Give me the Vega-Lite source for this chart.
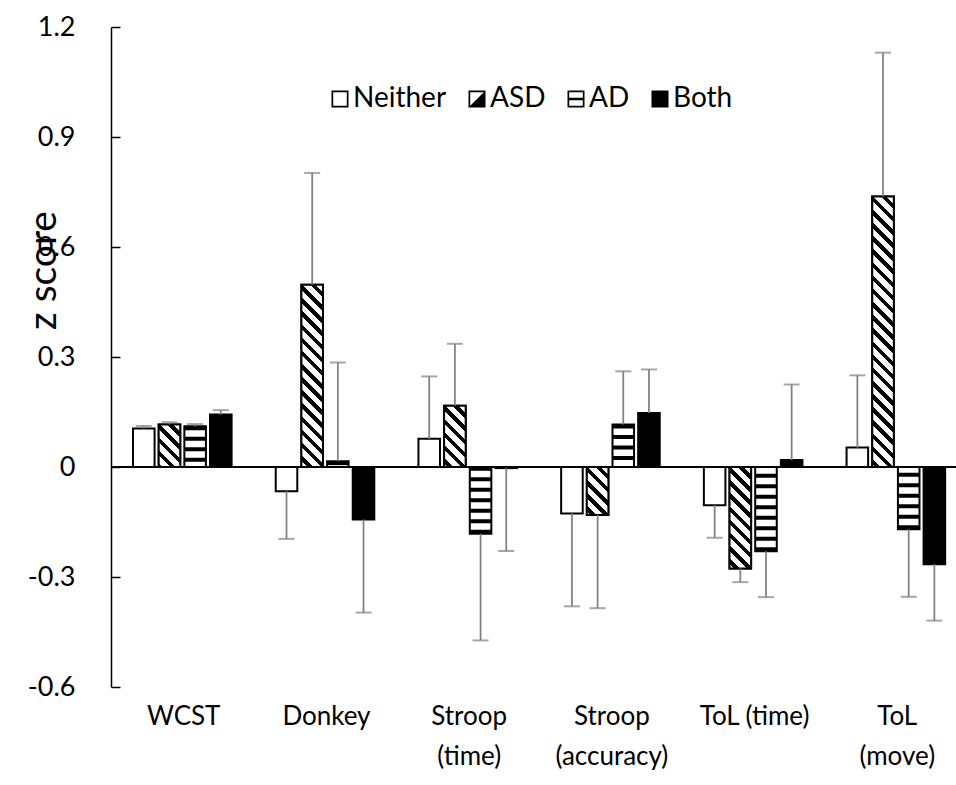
{
  "$schema": "https://vega.github.io/schema/vega-lite/v6.json",
  "autosize": {"type": "none"},
  "padding": {"left": 111, "top": 27, "right": 0, "bottom": 98},
  "width": 845,
  "height": 660,
  "config": {"view": {"stroke": null}, "font": "Lato"},
  "data": {"values": [
    {"cat": "WCST", "group": "Neither", "z": 0.105, "tip": 0.112},
    {"cat": "WCST", "group": "ASD", "z": 0.116, "tip": 0.122},
    {"cat": "WCST", "group": "AD", "z": 0.111, "tip": 0.117},
    {"cat": "WCST", "group": "Both", "z": 0.143, "tip": 0.155},
    {"cat": "Donkey", "group": "Neither", "z": -0.066, "tip": -0.196},
    {"cat": "Donkey", "group": "ASD", "z": 0.497, "tip": 0.802},
    {"cat": "Donkey", "group": "AD", "z": 0.016, "tip": 0.285},
    {"cat": "Donkey", "group": "Both", "z": -0.143, "tip": -0.397},
    {"cat": "Stroop (time)", "group": "Neither", "z": 0.077, "tip": 0.247},
    {"cat": "Stroop (time)", "group": "ASD", "z": 0.167, "tip": 0.336},
    {"cat": "Stroop (time)", "group": "AD", "z": -0.182, "tip": -0.473},
    {"cat": "Stroop (time)", "group": "Both", "z": -0.003, "tip": -0.229},
    {"cat": "Stroop (accuracy)", "group": "Neither", "z": -0.127, "tip": -0.380},
    {"cat": "Stroop (accuracy)", "group": "ASD", "z": -0.131, "tip": -0.385},
    {"cat": "Stroop (accuracy)", "group": "AD", "z": 0.116, "tip": 0.261},
    {"cat": "Stroop (accuracy)", "group": "Both", "z": 0.147, "tip": 0.266},
    {"cat": "ToL (time)", "group": "Neither", "z": -0.104, "tip": -0.193},
    {"cat": "ToL (time)", "group": "ASD", "z": -0.277, "tip": -0.314},
    {"cat": "ToL (time)", "group": "AD", "z": -0.230, "tip": -0.355},
    {"cat": "ToL (time)", "group": "Both", "z": 0.019, "tip": 0.225},
    {"cat": "ToL (move)", "group": "Neither", "z": 0.053, "tip": 0.250},
    {"cat": "ToL (move)", "group": "ASD", "z": 0.738, "tip": 1.130},
    {"cat": "ToL (move)", "group": "AD", "z": -0.170, "tip": -0.354},
    {"cat": "ToL (move)", "group": "Both", "z": -0.265, "tip": -0.419}
  ]},
  "resolve": {"scale": {"y": "independent"}},
  "layer": [
  {"layer": [
    {
      "mark": {"type": "bar", "stroke": "black", "strokeWidth": 2},
      "encoding": {
        "x": {"field": "cat", "type": "nominal",
          "scale": {"domain": ["WCST", "Donkey", "Stroop (time)", "Stroop (accuracy)", "ToL (time)", "ToL (move)"], "paddingInner": 0.079, "paddingOuter": 0},
          "axis": {"title": null, "domain": false, "ticks": false, "labelAngle": 0, "labelFontSize": 26, "labelColor": "black", "labelPadding": 16, "labelLineHeight": 40, "labelBaseline": "top", "labelOffset": 7,
            "labelExpr": "datum.label == 'Stroop (time)' ? ['Stroop', '(time)'] : datum.label == 'Stroop (accuracy)' ? ['Stroop', '(accuracy)'] : datum.label == 'ToL (move)' ? ['ToL', '(move)'] : datum.label"}},
        "xOffset": {"field": "group", "type": "nominal", "scale": {"domain": ["Neither", "ASD", "AD", "Both"], "paddingInner": 0.16, "paddingOuter": 0.64, "align": 0.67}},
        "y": {"field": "z", "type": "quantitative",
          "scale": {"domain": [-0.6, 1.2], "nice": false, "zero": false},
          "axis": {"orient": "left", "values": [-0.6, -0.3, 0, 0.3, 0.6, 0.9, 1.2], "grid": false,
            "labelExpr": "replace(format(datum.value, '.1~f'), '\u2212', '-')",
            "title": "z score", "titleFontSize": 39, "titleFontWeight": "normal", "titleColor": "black",
            "titleX": -68, "titleY": 243, "titleAngle": -90, "titleBaseline": "middle", "titleAlign": "center",
            "domainColor": "black", "domainWidth": 1.5, "ticks": false,
            "labelPadding": 36, "labelFontSize": 27, "labelColor": "black"}},
        "fill": {"condition": {"test": "datum.group === 'Both'", "value": "black"}, "value": "white"}
      }
    },
    {
      "transform": [{"filter": "datum.group === 'ASD' && datum.cat === 'WCST'"}],
      "mark": {"type": "bar", "stroke": "black", "strokeWidth": 2,
        "fill": {"gradient": "linear", "x1": 1, "y1": 0, "x2": 0.3923, "y2": 1.1988, "stops": [
                {"offset": 0, "color": "white"}, {"offset": 0.119, "color": "white"}, {"offset": 0.119, "color": "black"}, {"offset": 0.205, "color": "black"},
                {"offset": 0.205, "color": "white"}, {"offset": 0.324, "color": "white"}, {"offset": 0.324, "color": "black"}, {"offset": 0.410, "color": "black"},
                {"offset": 0.410, "color": "white"}, {"offset": 0.529, "color": "white"}, {"offset": 0.529, "color": "black"}, {"offset": 0.616, "color": "black"},
                {"offset": 0.616, "color": "white"}, {"offset": 0.735, "color": "white"}, {"offset": 0.735, "color": "black"}, {"offset": 0.821, "color": "black"},
                {"offset": 0.821, "color": "white"}, {"offset": 0.940, "color": "white"}, {"offset": 0.940, "color": "black"}, {"offset": 1, "color": "black"}]}},
      "encoding": {
        "x": {"field": "cat", "type": "nominal"},
        "xOffset": {"field": "group", "type": "nominal"},
        "y": {"field": "z", "type": "quantitative"}
      }
    },
    {
      "transform": [{"filter": "datum.group === 'ASD' && datum.cat === 'Donkey'"}],
      "mark": {"type": "bar", "stroke": "black", "strokeWidth": 2,
        "fill": {"gradient": "linear", "x1": 1, "y1": 0, "x2": 0.8695, "y2": 1.1029, "stops": [
                {"offset": 0, "color": "white"}, {"offset": 0.0374, "color": "white"}, {"offset": 0.0374, "color": "black"}, {"offset": 0.0645, "color": "black"},
                {"offset": 0.0645, "color": "white"}, {"offset": 0.1020, "color": "white"}, {"offset": 0.1020, "color": "black"}, {"offset": 0.1291, "color": "black"},
                {"offset": 0.1291, "color": "white"}, {"offset": 0.1665, "color": "white"}, {"offset": 0.1665, "color": "black"}, {"offset": 0.1936, "color": "black"},
                {"offset": 0.1936, "color": "white"}, {"offset": 0.2310, "color": "white"}, {"offset": 0.2310, "color": "black"}, {"offset": 0.2582, "color": "black"},
                {"offset": 0.2582, "color": "white"}, {"offset": 0.2956, "color": "white"}, {"offset": 0.2956, "color": "black"}, {"offset": 0.3227, "color": "black"},
                {"offset": 0.3227, "color": "white"}, {"offset": 0.3601, "color": "white"}, {"offset": 0.3601, "color": "black"}, {"offset": 0.3872, "color": "black"},
                {"offset": 0.3872, "color": "white"}, {"offset": 0.4247, "color": "white"}, {"offset": 0.4247, "color": "black"}, {"offset": 0.4518, "color": "black"},
                {"offset": 0.4518, "color": "white"}, {"offset": 0.4892, "color": "white"}, {"offset": 0.4892, "color": "black"}, {"offset": 0.5163, "color": "black"},
                {"offset": 0.5163, "color": "white"}, {"offset": 0.5537, "color": "white"}, {"offset": 0.5537, "color": "black"}, {"offset": 0.5809, "color": "black"},
                {"offset": 0.5809, "color": "white"}, {"offset": 0.6183, "color": "white"}, {"offset": 0.6183, "color": "black"}, {"offset": 0.6454, "color": "black"},
                {"offset": 0.6454, "color": "white"}, {"offset": 0.6828, "color": "white"}, {"offset": 0.6828, "color": "black"}, {"offset": 0.7099, "color": "black"},
                {"offset": 0.7099, "color": "white"}, {"offset": 0.7474, "color": "white"}, {"offset": 0.7474, "color": "black"}, {"offset": 0.7745, "color": "black"},
                {"offset": 0.7745, "color": "white"}, {"offset": 0.8119, "color": "white"}, {"offset": 0.8119, "color": "black"}, {"offset": 0.8390, "color": "black"},
                {"offset": 0.8390, "color": "white"}, {"offset": 0.8764, "color": "white"}, {"offset": 0.8764, "color": "black"}, {"offset": 0.9036, "color": "black"},
                {"offset": 0.9036, "color": "white"}, {"offset": 0.9410, "color": "white"}, {"offset": 0.9410, "color": "black"}, {"offset": 0.9681, "color": "black"},
                {"offset": 0.9681, "color": "white"}, {"offset": 1, "color": "white"}]}},
      "encoding": {
        "x": {"field": "cat", "type": "nominal"},
        "xOffset": {"field": "group", "type": "nominal"},
        "y": {"field": "z", "type": "quantitative"}
      }
    },
    {
      "transform": [{"filter": "datum.group === 'ASD' && datum.cat === 'Stroop (time)'"}],
      "mark": {"type": "bar", "stroke": "black", "strokeWidth": 2,
        "fill": {"gradient": "linear", "x1": 1, "y1": 0, "x2": 0.5764, "y2": 1.2030, "stops": [
                {"offset": 0, "color": "white"}, {"offset": 0.0921, "color": "white"}, {"offset": 0.0921, "color": "black"}, {"offset": 0.1589, "color": "black"},
                {"offset": 0.1589, "color": "white"}, {"offset": 0.2510, "color": "white"}, {"offset": 0.2510, "color": "black"}, {"offset": 0.3177, "color": "black"},
                {"offset": 0.3177, "color": "white"}, {"offset": 0.4099, "color": "white"}, {"offset": 0.4099, "color": "black"}, {"offset": 0.4766, "color": "black"},
                {"offset": 0.4766, "color": "white"}, {"offset": 0.5687, "color": "white"}, {"offset": 0.5687, "color": "black"}, {"offset": 0.6355, "color": "black"},
                {"offset": 0.6355, "color": "white"}, {"offset": 0.7276, "color": "white"}, {"offset": 0.7276, "color": "black"}, {"offset": 0.7943, "color": "black"},
                {"offset": 0.7943, "color": "white"}, {"offset": 0.8865, "color": "white"}, {"offset": 0.8865, "color": "black"}, {"offset": 0.9532, "color": "black"},
                {"offset": 0.9532, "color": "white"}, {"offset": 1, "color": "white"}]}},
      "encoding": {
        "x": {"field": "cat", "type": "nominal"},
        "xOffset": {"field": "group", "type": "nominal"},
        "y": {"field": "z", "type": "quantitative"}
      }
    },
    {
      "transform": [{"filter": "datum.group === 'ASD' && datum.cat === 'Stroop (accuracy)'"}],
      "mark": {"type": "bar", "stroke": "black", "strokeWidth": 2,
        "fill": {"gradient": "linear", "x1": 1, "y1": 0, "x2": 0.4587, "y2": 1.2059, "stops": [
                {"offset": 0, "color": "white"}, {"offset": 0.1096, "color": "white"}, {"offset": 0.1096, "color": "black"}, {"offset": 0.1890, "color": "black"},
                {"offset": 0.1890, "color": "white"}, {"offset": 0.2986, "color": "white"}, {"offset": 0.2986, "color": "black"}, {"offset": 0.3780, "color": "black"},
                {"offset": 0.3780, "color": "white"}, {"offset": 0.4876, "color": "white"}, {"offset": 0.4876, "color": "black"}, {"offset": 0.5670, "color": "black"},
                {"offset": 0.5670, "color": "white"}, {"offset": 0.6766, "color": "white"}, {"offset": 0.6766, "color": "black"}, {"offset": 0.7560, "color": "black"},
                {"offset": 0.7560, "color": "white"}, {"offset": 0.8656, "color": "white"}, {"offset": 0.8656, "color": "black"}, {"offset": 0.9450, "color": "black"},
                {"offset": 0.9450, "color": "white"}, {"offset": 1, "color": "white"}]}},
      "encoding": {
        "x": {"field": "cat", "type": "nominal"},
        "xOffset": {"field": "group", "type": "nominal"},
        "y": {"field": "z", "type": "quantitative"}
      }
    },
    {
      "transform": [{"filter": "datum.group === 'ASD' && datum.cat === 'ToL (time)'"}],
      "mark": {"type": "bar", "stroke": "black", "strokeWidth": 2,
        "fill": {"gradient": "linear", "x1": 1, "y1": 0, "x2": 0.7538, "y2": 1.160, "stops": [
                {"offset": 0, "color": "white"}, {"offset": 0.0620, "color": "white"}, {"offset": 0.0620, "color": "black"}, {"offset": 0.1068, "color": "black"},
                {"offset": 0.1068, "color": "white"}, {"offset": 0.1688, "color": "white"}, {"offset": 0.1688, "color": "black"}, {"offset": 0.2136, "color": "black"},
                {"offset": 0.2136, "color": "white"}, {"offset": 0.2756, "color": "white"}, {"offset": 0.2756, "color": "black"}, {"offset": 0.3204, "color": "black"},
                {"offset": 0.3204, "color": "white"}, {"offset": 0.3824, "color": "white"}, {"offset": 0.3824, "color": "black"}, {"offset": 0.4272, "color": "black"},
                {"offset": 0.4272, "color": "white"}, {"offset": 0.4892, "color": "white"}, {"offset": 0.4892, "color": "black"}, {"offset": 0.5341, "color": "black"},
                {"offset": 0.5341, "color": "white"}, {"offset": 0.5960, "color": "white"}, {"offset": 0.5960, "color": "black"}, {"offset": 0.6409, "color": "black"},
                {"offset": 0.6409, "color": "white"}, {"offset": 0.7028, "color": "white"}, {"offset": 0.7028, "color": "black"}, {"offset": 0.7477, "color": "black"},
                {"offset": 0.7477, "color": "white"}, {"offset": 0.8096, "color": "white"}, {"offset": 0.8096, "color": "black"}, {"offset": 0.8545, "color": "black"},
                {"offset": 0.8545, "color": "white"}, {"offset": 0.9165, "color": "white"}, {"offset": 0.9165, "color": "black"}, {"offset": 0.9613, "color": "black"},
                {"offset": 0.9613, "color": "white"}, {"offset": 1, "color": "white"}]}},
      "encoding": {
        "x": {"field": "cat", "type": "nominal"},
        "xOffset": {"field": "group", "type": "nominal"},
        "y": {"field": "z", "type": "quantitative"}
      }
    },
    {
      "transform": [{"filter": "datum.group === 'ASD' && datum.cat === 'ToL (move)'"}],
      "mark": {"type": "bar", "stroke": "black", "strokeWidth": 2,
        "fill": {"gradient": "linear", "x1": 1, "y1": 0, "x2": 0.9145, "y2": 1.0729, "stops": [
                {"offset": 0, "color": "white"}, {"offset": 0.0261, "color": "white"}, {"offset": 0.0261, "color": "black"}, {"offset": 0.0450, "color": "black"},
                {"offset": 0.0450, "color": "white"}, {"offset": 0.0711, "color": "white"}, {"offset": 0.0711, "color": "black"}, {"offset": 0.0900, "color": "black"},
                {"offset": 0.0900, "color": "white"}, {"offset": 0.1161, "color": "white"}, {"offset": 0.1161, "color": "black"}, {"offset": 0.1350, "color": "black"},
                {"offset": 0.1350, "color": "white"}, {"offset": 0.1611, "color": "white"}, {"offset": 0.1611, "color": "black"}, {"offset": 0.1801, "color": "black"},
                {"offset": 0.1801, "color": "white"}, {"offset": 0.2062, "color": "white"}, {"offset": 0.2062, "color": "black"}, {"offset": 0.2251, "color": "black"},
                {"offset": 0.2251, "color": "white"}, {"offset": 0.2512, "color": "white"}, {"offset": 0.2512, "color": "black"}, {"offset": 0.2701, "color": "black"},
                {"offset": 0.2701, "color": "white"}, {"offset": 0.2962, "color": "white"}, {"offset": 0.2962, "color": "black"}, {"offset": 0.3151, "color": "black"},
                {"offset": 0.3151, "color": "white"}, {"offset": 0.3412, "color": "white"}, {"offset": 0.3412, "color": "black"}, {"offset": 0.3601, "color": "black"},
                {"offset": 0.3601, "color": "white"}, {"offset": 0.3862, "color": "white"}, {"offset": 0.3862, "color": "black"}, {"offset": 0.4051, "color": "black"},
                {"offset": 0.4051, "color": "white"}, {"offset": 0.4312, "color": "white"}, {"offset": 0.4312, "color": "black"}, {"offset": 0.4502, "color": "black"},
                {"offset": 0.4502, "color": "white"}, {"offset": 0.4763, "color": "white"}, {"offset": 0.4763, "color": "black"}, {"offset": 0.4952, "color": "black"},
                {"offset": 0.4952, "color": "white"}, {"offset": 0.5213, "color": "white"}, {"offset": 0.5213, "color": "black"}, {"offset": 0.5402, "color": "black"},
                {"offset": 0.5402, "color": "white"}, {"offset": 0.5663, "color": "white"}, {"offset": 0.5663, "color": "black"}, {"offset": 0.5852, "color": "black"},
                {"offset": 0.5852, "color": "white"}, {"offset": 0.6113, "color": "white"}, {"offset": 0.6113, "color": "black"}, {"offset": 0.6302, "color": "black"},
                {"offset": 0.6302, "color": "white"}, {"offset": 0.6563, "color": "white"}, {"offset": 0.6563, "color": "black"}, {"offset": 0.6752, "color": "black"},
                {"offset": 0.6752, "color": "white"}, {"offset": 0.7013, "color": "white"}, {"offset": 0.7013, "color": "black"}, {"offset": 0.7202, "color": "black"},
                {"offset": 0.7202, "color": "white"}, {"offset": 0.7463, "color": "white"}, {"offset": 0.7463, "color": "black"}, {"offset": 0.7653, "color": "black"},
                {"offset": 0.7653, "color": "white"}, {"offset": 0.7914, "color": "white"}, {"offset": 0.7914, "color": "black"}, {"offset": 0.8103, "color": "black"},
                {"offset": 0.8103, "color": "white"}, {"offset": 0.8364, "color": "white"}, {"offset": 0.8364, "color": "black"}, {"offset": 0.8553, "color": "black"},
                {"offset": 0.8553, "color": "white"}, {"offset": 0.8814, "color": "white"}, {"offset": 0.8814, "color": "black"}, {"offset": 0.9003, "color": "black"},
                {"offset": 0.9003, "color": "white"}, {"offset": 0.9264, "color": "white"}, {"offset": 0.9264, "color": "black"}, {"offset": 0.9453, "color": "black"},
                {"offset": 0.9453, "color": "white"}, {"offset": 0.9714, "color": "white"}, {"offset": 0.9714, "color": "black"}, {"offset": 0.9903, "color": "black"},
                {"offset": 0.9903, "color": "white"}, {"offset": 1, "color": "white"}]}},
      "encoding": {
        "x": {"field": "cat", "type": "nominal"},
        "xOffset": {"field": "group", "type": "nominal"},
        "y": {"field": "z", "type": "quantitative"}
      }
    },
    {
      "transform": [{"filter": "datum.group === 'AD'"}],
      "mark": {"type": "rule", "color": "black", "strokeWidth": 21.5, "strokeDash": [4, 6.5], "strokeCap": "butt"},
      "encoding": {
        "x": {"field": "cat", "type": "nominal"},
        "xOffset": {"field": "group", "type": "nominal"},
        "y": {"field": "z", "type": "quantitative"},
        "y2": {"datum": 0}
      }
    },
    {
      "mark": {"type": "rule", "color": "#808080", "strokeWidth": 1.75},
      "encoding": {
        "x": {"field": "cat", "type": "nominal"},
        "xOffset": {"field": "group", "type": "nominal"},
        "y": {"field": "z", "type": "quantitative"},
        "y2": {"field": "tip"}
      }
    },
    {
      "mark": {"type": "tick", "color": "#808080", "orient": "horizontal", "size": 16, "thickness": 2},
      "encoding": {
        "x": {"field": "cat", "type": "nominal"},
        "xOffset": {"field": "group", "type": "nominal"},
        "y": {"field": "tip", "type": "quantitative"}
      }
    },
    {
      "data": {"values": [{}]},
      "mark": {"type": "rule", "color": "black", "strokeWidth": 2},
      "encoding": {"y": {"datum": 0, "type": "quantitative"}}
    },
    {
      "mark": {"type": "point", "filled": true, "color": "black", "opacity": 0},
      "encoding": {
        "x": {"field": "cat", "type": "nominal"},
        "xOffset": {"field": "group", "type": "nominal"},
        "y": {"field": "z", "type": "quantitative"},
        "shape": {"field": "group", "type": "nominal",
          "scale": {"domain": ["Neither", "ASD", "AD", "Both"],
            "range": [
              "M-1,-1H1V1H-1Z M-0.8,-0.8V0.8H0.8V-0.8Z",
              "M-1,-1H1V1H-1Z M-0.8,-0.8V0.8H0.8V-0.8Z M1,-1L1,1L-1,1Z",
              "M-1,-1H1V1H-1Z M-0.8,-0.8V0.8H0.8V-0.8Z M-1,-0.15H1V0.15H-1Z",
              "M-1,-1H1V1H-1Z"
            ]},
          "legend": {"orient": "none", "legendX": 215, "legendY": 58, "direction": "horizontal", "title": null,
            "symbolSize": 289, "symbolFillColor": "black", "symbolStrokeWidth": 0, "symbolOpacity": 1,
            "labelFontSize": 28, "labelFont": "Lato", "labelColor": "black",
            "labelOffset": -1, "columnPadding": 16, "padding": 0, "offset": 0}
        }
      }
    }
  ]},
  {
    "data": {"values": [{}]},
    "mark": {"type": "rule", "opacity": 0},
    "encoding": {
      "y": {"datum": 0, "type": "quantitative",
        "scale": {"domain": [-0.6, 1.2], "nice": false, "zero": false},
        "axis": {"orient": "right", "offset": -845, "values": [-0.6, -0.3, 0, 0.3, 0.6, 0.9, 1.2], "labels": false, "domain": false, "title": null, "grid": false,
          "ticks": true, "tickSize": 9, "tickColor": "black", "tickWidth": 1.5}}
    }
  }
  ]
}
